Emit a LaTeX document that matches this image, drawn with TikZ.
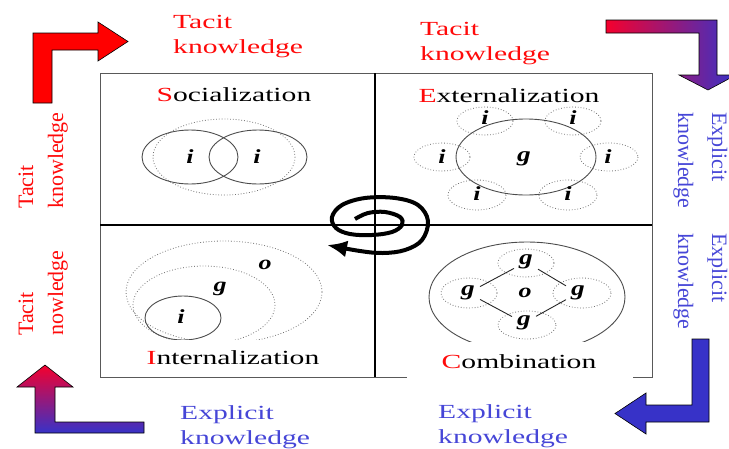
\documentclass[tikz,border=0pt]{standalone}
\usepackage{fontspec}
\setmainfont{Liberation Serif}
\usetikzlibrary{arrows.meta}
\definecolor{kred}{RGB}{255,10,10}
\definecolor{kblue}{RGB}{70,70,215}
\definecolor{ablue}{RGB}{55,50,200}
\definecolor{apink}{RGB}{245,0,45}
\newcommand{\hs}[1]{\scalebox{1.48}[1]{#1}}
\newcommand{\ls}[1]{\scalebox{1.3}[1]{#1}}
\newcommand{\twol}[2]{\begin{tabular}[t]{@{}l@{}}#1\\#2\end{tabular}}
\begin{document}
\begin{tikzpicture}[x=1pt,y=-1pt,
  htext/.style={inner sep=0pt, font=\fontsize{20}{25}\selectfont},
  vtext/.style={inner sep=0pt, anchor=base west},
  lab/.style={inner sep=0pt, font=\fontsize{20}{20}\selectfont\bfseries\itshape},
  glab/.style={inner sep=5pt, font=\fontsize{21}{21}\selectfont\bfseries\itshape},
  solidell/.style={draw=black!70, line width=0.9pt},
  dotell/.style={draw=black!55, line width=0.8pt, dash pattern=on 0.8pt off 2pt},
  arrowout/.style={draw=black, line width=0.6pt},
  frame/.style={draw=black!65, line width=0.9pt},
  divider/.style={draw=black, line width=1.1pt},
  linkline/.style={draw=black!85, line width=0.9pt},
]
\useasboundingbox (0,0) rectangle (729,448);

% big arrows
\path[arrowout, fill=red] (33,103) -- (33,33) -- (98,33) -- (98,22) -- (128,41.5)
  -- (98,61) -- (98,50) -- (52,50) -- (52,103) -- cycle;
\path[arrowout, left color=apink, right color=ablue] (606,20) -- (717,20) -- (717,75)
  -- (736,75) -- (708,90) -- (679,75) -- (699,75) -- (699,33) -- (606,33) -- cycle;
\path[arrowout, fill=ablue] (692,339) -- (709,339) -- (709,422) -- (646,422) -- (646,434)
  -- (615,413.5) -- (646,393) -- (646,405) -- (692,405) -- cycle;
\path[arrowout, top color=apink, bottom color=ablue] (35,433) -- (35,387) -- (17,387)
  -- (45,365) -- (73,387) -- (55,387) -- (55,422) -- (144,422) -- (144,433) -- cycle;

% frame
\draw[frame] (100,73) rectangle (652,377);
\draw[divider] (100,225) -- (652,225);
\draw[divider] (375,73) -- (375,377);

% Socialization
\draw[dotell] (224,157) ellipse [x radius=71, y radius=38];
\draw[solidell] (190,157) ellipse [x radius=48, y radius=27];
\draw[solidell] (258,157) ellipse [x radius=49, y radius=27];
\node[lab] (si1) at (190,157) {\ls{i}};
\node[lab] (si2) at (257,157) {\ls{i}};

% Externalization
\draw[dotell] (485,121) ellipse [x radius=28, y radius=14];
\draw[dotell] (573,121) ellipse [x radius=28, y radius=14];
\draw[dotell] (442,157) ellipse [x radius=28, y radius=14];
\draw[dotell] (609,157) ellipse [x radius=29, y radius=14];
\draw[dotell] (477,195) ellipse [x radius=29, y radius=15];
\draw[dotell] (568,195) ellipse [x radius=29, y radius=15];
\draw[solidell] (526,157) ellipse [x radius=70, y radius=38];
\node[lab] (ei1) at (485,118) {\ls{i}};
\node[lab] (ei2) at (573,118) {\ls{i}};
\node[lab] (ei3) at (442,157) {\ls{i}};
\node[lab] (ei4) at (608,157) {\ls{i}};
\node[lab] (ei5) at (477,194) {\ls{i}};
\node[lab] (ei6) at (568,194) {\ls{i}};
\node[glab] (eg) at (524,159) {\ls{g}};

% Internalization
\begin{scope}
  \clip (100,225) rectangle (375,339);
  \draw[dotell] (224,292) ellipse [x radius=98, y radius=51];
  \draw[dotell] (204,305) ellipse [x radius=71, y radius=39];
  \draw[solidell] (183,318) ellipse [x radius=38, y radius=22];
\end{scope}
\node[lab] (io) at (265,265) {\ls{o}};
\node[lab] (ig) at (220,289) {\ls{g}};
\node[lab] (ii) at (181,317) {\ls{i}};

% Combination
\begin{scope}
  \clip (375,225) rectangle (652,342);
  \draw[solidell] (527,297) ellipse [x radius=98, y radius=55];
  \draw[dotell] (526,263) ellipse [x radius=28, y radius=14];
  \draw[dotell] (469,293) ellipse [x radius=28, y radius=15];
  \draw[dotell] (582,293) ellipse [x radius=29, y radius=15];
  \draw[dotell] (527,325) ellipse [x radius=29, y radius=14];
\end{scope}
\fill[white] (407,342) rectangle (633,382);
\node[glab] (cgt) at (526,262) {\ls{g}};
\node[glab] (cgl) at (468,293) {\ls{g}};
\node[glab] (cgr) at (578,293) {\ls{g}};
\node[glab] (cgb) at (524,323) {\ls{g}};
\node[lab] (co) at (525,293) {\ls{o}};
\draw[linkline] (cgt) -- (cgl);
\draw[linkline] (cgt) -- (cgr);
\draw[linkline] (cgl) -- (cgb);
\draw[linkline] (cgr) -- (cgb);

% quadrant titles
\node[htext, anchor=base] (soc) at (234,101) {\hs{\textcolor{kred}{S}ocialization}};
\node[htext, anchor=base] (ext) at (509,102) {\hs{\textcolor{kred}{E}xternalization}};
\node[htext, anchor=base] (int) at (233,364) {\hs{\textcolor{kred}{I}nternalization}};
\node[htext, anchor=base] (com) at (519,368) {\hs{\textcolor{kred}{C}ombination}};

% spiral
\draw[line width=4pt, -{Latex[length=20pt,width=17pt]}] plot[smooth, tension=0.6] coordinates {
  (355,219) (368,213) (385,212) (400,217) (402,225) (392,232) (372,235) (350,234)
  (336,228) (332,217) (342,205) (365,198) (395,198) (418,205) (428,221) (422,240)
  (405,250) (383,253) (360,251) (327,245)};

% knowledge labels
\node[htext, anchor=base west, text=kred] (tl) at (173,28) {\hs{\twol{Tacit}{knowledge}}};
\node[htext, anchor=base west, text=kred] (tr) at (420,35) {\hs{\twol{Tacit}{knowledge}}};
\node[htext, anchor=base west, text=kblue] (bl) at (180,419) {\hs{\twol{Explicit}{knowledge}}};
\node[htext, anchor=base west, text=kblue] (br) at (438,418) {\hs{\twol{Explicit}{knowledge}}};

\node[vtext, rotate=90, text=kred, font=\fontsize{22}{30}\selectfont] (lu) at (33,209) {\twol{Tacit}{knowledge}};
\node[vtext, rotate=90, text=kred, font=\fontsize{22}{30}\selectfont] (ll) at (33,336) {\twol{Tacit}{nowledge}};
\node[vtext, rotate=-90, text=kblue, font=\fontsize{22}{34}\selectfont] (ru) at (712,112) {\twol{Explicit}{knowledge}};
\node[vtext, rotate=-90, text=kblue, font=\fontsize{22}{34}\selectfont] (rl) at (712,233) {\twol{Explicit}{knowledge}};
\end{tikzpicture}
\end{document}
